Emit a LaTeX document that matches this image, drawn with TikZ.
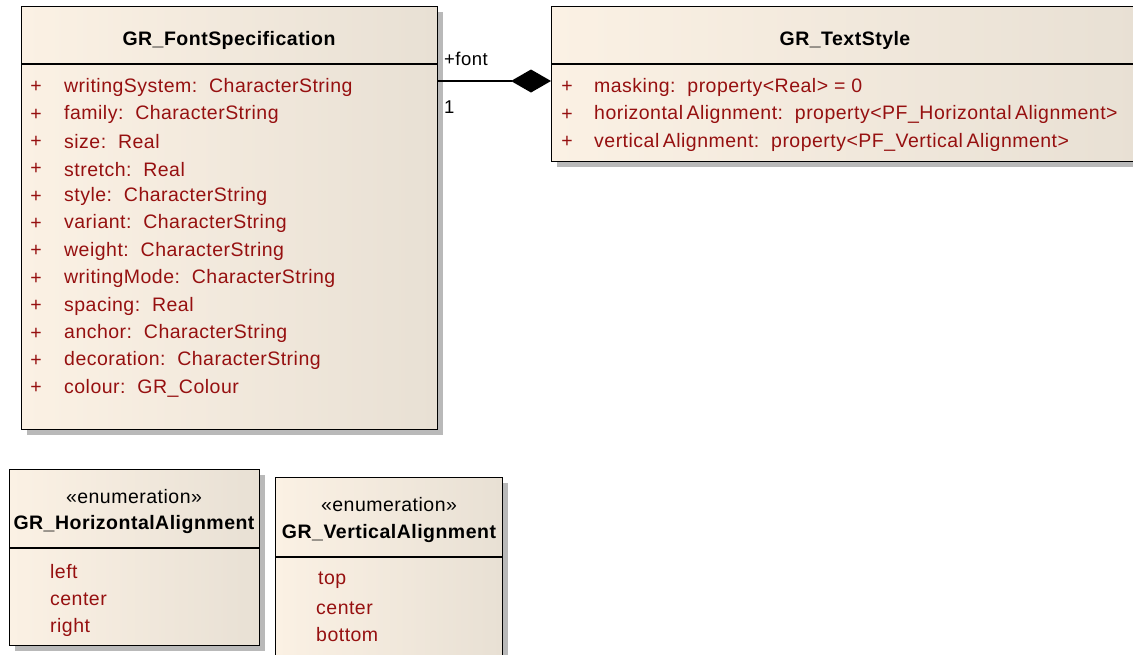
\documentclass[tikz,border=0pt]{standalone}
\usepackage{fontspec}
\setmainfont{Liberation Sans}[LetterSpace=2.5]
\usetikzlibrary{calc,shadows,arrows.meta}

\definecolor{attr}{RGB}{150,16,16}
\definecolor{boxleft}{RGB}{251,241,228}
\definecolor{boxright}{RGB}{232,224,212}
\definecolor{shade}{RGB}{185,185,185}

\tikzset{
  classbox/.style={draw=black, line width=1.3pt, anchor=north west, inner sep=0pt,
    left color=boxleft, right color=boxright,
    drop shadow={shadow xshift=5pt, shadow yshift=-5pt, fill=shade, opacity=1}},
  title/.style={font=\fontsize{19.5}{22}\selectfont\bfseries, text=black, inner sep=0pt},
  stereo/.style={font=\fontsize{19.5}{22}\selectfont, text=black, inner sep=0pt},
  attrib/.style={font=\fontsize{19.5}{22}\selectfont, text=attr, anchor=west, inner sep=0pt},
  plus/.style={font=\fontsize{19.5}{22}\selectfont, text=attr, inner sep=0pt},
  divider/.style={line width=1.3pt},
  rolelabel/.style={font=\fontsize{18.5}{22}\selectfont, text=black, anchor=west, inner sep=0pt},
  compose/.style={line width=1.3pt, -{Diamond[length=40pt,width=23pt,fill=black]}}
}
% slight gap inside the long compound names
\newcommand{\wgap}{\kern3.5pt}

\begin{document}
\begin{tikzpicture}[x=1pt,y=-1pt]
\useasboundingbox (0,0) rectangle (1133,654);

% ---- GR_FontSpecification ----
\node[classbox, minimum width=416pt, minimum height=423pt] (fs) at (21,6) {};
\draw[divider] ($(fs.north west)+(0,58)$) -- ($(fs.north east)+(0,58)$);
\node[title] (fsname) at (229,40) {GR\_FontSpecification};
\foreach \txt [count=\i] in {
  {writingSystem:\ \ CharacterString},
  {family:\ \ CharacterString},
  {size:\ \ Real},
  {stretch:\ \ Real},
  {style:\ \ CharacterString},
  {variant:\ \ CharacterString},
  {weight:\ \ CharacterString},
  {writingMode:\ \ CharacterString},
  {spacing:\ \ Real},
  {anchor:\ \ CharacterString},
  {decoration:\ \ CharacterString},
  {colour:\ \ GR\_Colour}} {
  \pgfmathsetmacro{\yy}{87+27.38*(\i-1)}
  \node[plus] (fsplus\i) at (36,\yy) {+};
  \node[attrib] (fsattr\i) at (64,\yy) {\txt};
}

% ---- GR_TextStyle ----
\node[classbox, minimum width=588pt, minimum height=155pt] (ts) at (551,6) {};
\draw[divider] ($(ts.north west)+(0,58)$) -- ($(ts.north east)+(0,58)$);
\node[title] (tsname) at (845,40) {GR\_TextStyle};
\foreach \txt [count=\i] in {
  {masking:\ \ property<Real> = 0},
  {horizontal\wgap Alignment:\ \ property<PF\_Horizontal\wgap Alignment>},
  {vertical\wgap Alignment:\ \ property<PF\_Vertical\wgap Alignment>}} {
  \pgfmathsetmacro{\yy}{87+27.5*(\i-1)}
  \node[plus] (tsplus\i) at (567,\yy) {+};
  \node[attrib] (tsattr\i) at (594,\yy) {\txt};
}

% ---- composition: GR_TextStyle owns its font ----
\coordinate (fsend) at ($(fs.north east)+(0,75)$);
\coordinate (tsend) at ($(ts.north west)+(0,75)$);
\draw[compose] (fsend) -- (tsend);
\node[rolelabel] (rolefont) at (444,59) {+font};
\node[rolelabel] (rolemult) at (444,107) {1};

% ---- GR_HorizontalAlignment ----
\node[classbox, minimum width=250pt, minimum height=176pt] (ha) at (9,469) {};
\draw[divider] ($(ha.north west)+(0,79)$) -- ($(ha.north east)+(0,79)$);
\node[stereo] (hast) at (134,497) {«enumeration»};
\node[title] (haname) at (134,524) {GR\_HorizontalAlignment};
\node[attrib] (haleft) at (50,572) {left};
\node[attrib] (hacenter) at (50,599) {center};
\node[attrib] (haright) at (50,627) {right};

% ---- GR_VerticalAlignment ----
\node[classbox, minimum width=227pt, minimum height=190pt] (va) at (275,477) {};
\draw[divider] ($(va.north west)+(0,80)$) -- ($(va.north east)+(0,80)$);
\node[stereo] (vast) at (389,505) {«enumeration»};
\node[title] (vaname) at (389,533) {GR\_VerticalAlignment};
\node[attrib] (vatop) at (318,580) {top};
\node[attrib] (vacenter) at (316,608) {center};
\node[attrib] (vabottom) at (316,635) {bottom};
\end{tikzpicture}
\end{document}
